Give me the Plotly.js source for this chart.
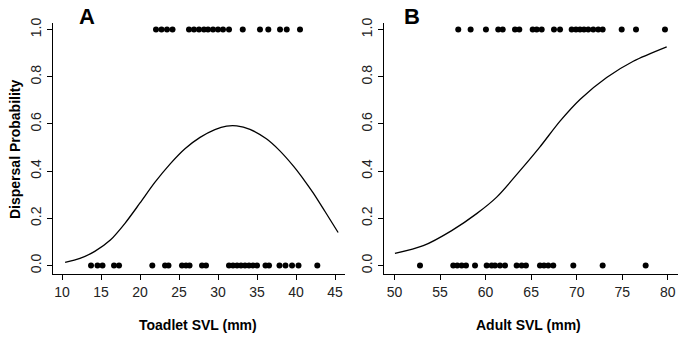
<!DOCTYPE html>
<html>
<head>
<meta charset="utf-8">
<script src="https://cdn.plot.ly/plotly-3.0.1.min.js"></script>
<style>html,body{margin:0;padding:0;background:#fff;}#chart{width:681px;height:337px;}</style>
</head>
<body>
<div id="chart"></div>
<script>
// Panel A: toadlets
const toadTopX = [22.05, 22.76, 23.46, 24.17, 26.28, 26.92, 27.56, 28.2, 28.72, 29.36, 30.0, 30.64, 31.41, 33.17, 35.38, 36.45, 37.95, 38.81, 40.51];
const toadBottomX = [13.72, 14.55, 15.19, 16.67, 17.31, 21.58, 23.21, 23.65, 25.38, 25.90, 26.35, 27.95, 28.46, 31.41, 31.92, 32.44, 32.95, 33.46, 33.97, 34.49, 35.0, 36.09, 36.54, 37.88, 38.65, 39.49, 40.32, 42.73];
const toadCurveX = [10.4, 12.3, 14.2, 16.2, 18.1, 20.0, 21.9, 23.9, 25.8, 27.7, 29.6, 31.1, 32.4, 34.1, 36.2, 37.9, 39.7, 41.2, 42.2, 43.7, 45.4];
const toadCurveY = [0.013, 0.030, 0.060, 0.108, 0.180, 0.265, 0.352, 0.432, 0.496, 0.543, 0.576, 0.591, 0.592, 0.577, 0.537, 0.487, 0.420, 0.355, 0.308, 0.23, 0.14];

// Panel B: adults
const adultTopX = [57.0, 58.36, 60.04, 61.39, 61.88, 63.23, 63.70, 65.17, 65.61, 66.16, 67.51, 68.17, 69.45, 69.92, 70.36, 70.80, 71.27, 71.82, 72.37, 72.85, 74.94, 76.51, 79.69];
const adultBottomX = [52.80, 56.45, 56.89, 57.38, 57.85, 58.84, 60.12, 60.67, 61.03, 61.58, 62.13, 63.41, 63.96, 64.43, 65.97, 66.41, 66.88, 67.43, 69.63, 72.85, 77.57];
const adultCurveX = [50.05, 53.16, 56.28, 59.02, 61.22, 63.78, 65.97, 68.17, 70.39, 73.29, 76.21, 79.88];
const adultCurveY = [0.051, 0.084, 0.148, 0.220, 0.290, 0.402, 0.503, 0.612, 0.705, 0.797, 0.866, 0.927];

const yTicks = [0, 0.2, 0.4, 0.6, 0.8, 1.0];
const xTicksA = [10, 15, 20, 25, 30, 35, 40, 45];
const xTicksB = [50, 55, 60, 65, 70, 75, 80];

const FONT = 'Liberation Sans, Arial, sans-serif';
const mk = {color: '#000', size: 6};

function ones(a){ return a.map(() => 1); }
function zeros(a){ return a.map(() => 0); }

const lineStyle = {color: '#000', width: 1.3, shape: 'spline', smoothing: 0.8};
const data = [
  {x: toadTopX, y: ones(toadTopX), mode: 'markers', marker: mk, xaxis: 'x', yaxis: 'y', hoverinfo: 'skip'},
  {x: toadBottomX, y: zeros(toadBottomX), mode: 'markers', marker: mk, xaxis: 'x', yaxis: 'y', hoverinfo: 'skip'},
  {x: toadCurveX, y: toadCurveY, mode: 'lines', line: lineStyle, xaxis: 'x', yaxis: 'y'},
  {x: adultTopX, y: ones(adultTopX), mode: 'markers', marker: mk, xaxis: 'x2', yaxis: 'y2', hoverinfo: 'skip'},
  {x: adultBottomX, y: zeros(adultBottomX), mode: 'markers', marker: mk, xaxis: 'x2', yaxis: 'y2', hoverinfo: 'skip'},
  {x: adultCurveX, y: adultCurveY, mode: 'lines', line: lineStyle, xaxis: 'x2', yaxis: 'y2'}
];

const tickFont = {family: FONT, size: 14, color: '#222'};
function xAxis(domain, range, ticks, anchor){
  return {domain: domain, range: range, tickvals: ticks, ticktext: ticks.map(String), anchor: anchor,
    showline: true, linecolor: '#000', linewidth: 1, ticks: 'outside', ticklen: 5, tickcolor: '#000',
    showgrid: false, zeroline: false, tickfont: tickFont, fixedrange: true};
}
function yAxis(anchor){
  return {domain: [0, 1], range: [-0.036, 1.028], tickvals: yTicks, tickformat: '.1f', anchor: anchor,
    showline: true, linecolor: '#000', linewidth: 1, ticks: 'outside', ticklen: 5, tickcolor: '#000',
    tickangle: -90, showgrid: false, zeroline: false, tickfont: tickFont, fixedrange: true};
}

const layout = {
  width: 681, height: 337,
  margin: {l: 53, r: 3, t: 23, b: 63},
  paper_bgcolor: '#fff', plot_bgcolor: '#fff',
  showlegend: false,
  xaxis: xAxis([0, 0.4672], [8.846, 46.28], xTicksA, 'y'),
  yaxis: yAxis('x'),
  xaxis2: xAxis([0.5296, 1], [48.85, 81.12], xTicksB, 'y2'),
  yaxis2: yAxis('x2'),
  annotations: [
    {text: 'Toadlet SVL (mm)', xref: 'paper', yref: 'paper', x: 0.232, y: -0.203, xanchor: 'center', yanchor: 'middle', showarrow: false, font: {family: FONT, size: 14, color: '#000', weight: 'bold'}},
    {text: 'Adult SVL (mm)', xref: 'paper', yref: 'paper', x: 0.76, y: -0.203, xanchor: 'center', yanchor: 'middle', showarrow: false, font: {family: FONT, size: 14, color: '#000', weight: 'bold'}},
    {text: 'Dispersal Probability', xref: 'paper', yref: 'paper', x: -0.0608, y: 0.494, xanchor: 'center', yanchor: 'middle', textangle: -90, showarrow: false, font: {family: FONT, size: 14, color: '#000', weight: 'bold'}},
    {text: 'A', xref: 'paper', yref: 'paper', x: 0.0544, y: 1.024, xanchor: 'center', yanchor: 'middle', showarrow: false, font: {family: FONT, size: 22, color: '#000', weight: 'bold'}},
    {text: 'B', xref: 'paper', yref: 'paper', x: 0.5744, y: 1.024, xanchor: 'center', yanchor: 'middle', showarrow: false, font: {family: FONT, size: 22, color: '#000', weight: 'bold'}}
  ]
};

Plotly.newPlot('chart', data, layout, {staticPlot: true, displayModeBar: false});
</script>
</body>
</html>
